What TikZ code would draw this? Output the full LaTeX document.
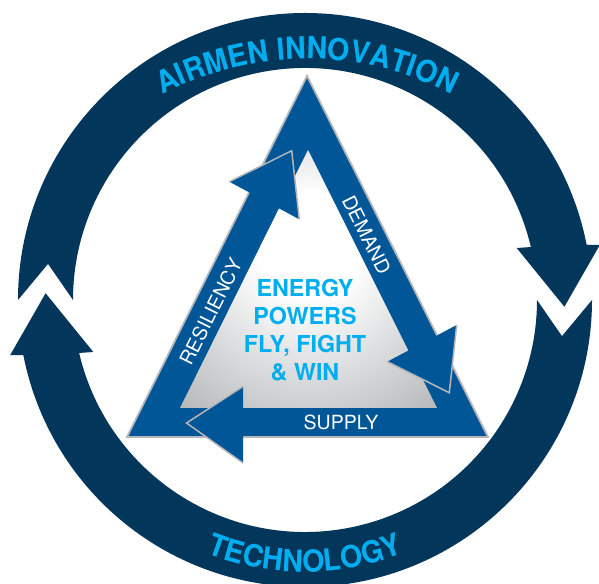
\documentclass[tikz,border=0pt]{standalone}
\usepackage{fontspec}
\setmainfont{TeX Gyre Heros}
\newfontfamily\ringfont[FakeStretch=0.94]{TeX Gyre Heros}
\usetikzlibrary{decorations.text}
\definecolor{navy}{RGB}{2,54,91}
\definecolor{tblue}{RGB}{0,86,150}
\definecolor{cyanc}{RGB}{0,174,239}
\definecolor{outl}{RGB}{180,182,185}
\definecolor{ingray}{RGB}{170,172,175}
% soft light spot in the middle of the inner triangle
\pgfdeclareradialshading{glow}{\pgfpoint{0bp}{8bp}}{color(0bp)=(white); color(10bp)=(white); color(42bp)=(ingray); color(60bp)=(ingray)}
\newcommand\ringtxt{\ringfont\bfseries\fontsize{30.5}{36}\selectfont}

\begin{document}
\begin{tikzpicture}[x=1pt,y=1pt,
  ring/.style={fill=navy},
  band/.style={fill=tblue, draw=outl, line width=1.8pt, line join=miter},
  head/.style={fill=tblue},
  headedge/.style={draw=outl, line width=1.5pt, line join=miter},
  lab/.style={text=white, font=\fontsize{19.5}{22}\selectfont, inner sep=0pt},
  core/.style={text=cyanc, font=\bfseries\fontsize{23.3}{28}\selectfont, inner sep=0pt, anchor=base}]
\useasboundingbox (0,0) rectangle (599,583);

% ---- outer cycle: two curved arrows ----
\begin{scope}[shift={(305,283)}]
  \fill[ring] (180:287) arc[start angle=180, end angle=11.1, radius=287]
    -- (10.6:300) -- (-1.5:259.5) -- (13.8:218) -- (13.2:232)
    arc[start angle=13.2, end angle=180, radius=232] -- (172:259.5) -- cycle;
  \fill[ring] (0:287) arc[start angle=0, end angle=-168.9, radius=287]
    -- (-169.4:300) -- (-181.5:259.5) -- (-166.2:218) -- (-166.8:232)
    arc[start angle=-166.8, end angle=0, radius=232] -- (-8:259.5) -- cycle;
  \path[decorate, decoration={text along path, text align=center, text color=cyanc,
      text={|\ringtxt|TECHNOLOGY}}]
    (220:272) arc[start angle=220, end angle=320, radius=272];
\end{scope}
\begin{scope}[shift={(307,214)}]
  \path[decorate, decoration={text along path, text align=center, text color=cyanc,
      text={|\ringtxt|AIRMEN INNOVATION}}]
    (150:310) arc[start angle=150, end angle=30, radius=310];
\end{scope}

% ---- triangle band ----
\coordinate (oa) at (307,507);
\coordinate (ob) at (127,146);
\coordinate (oc) at (488,146);
\coordinate (ia) at (308,433);
\coordinate (ib) at (180,175);
\coordinate (ic) at (437,175);
\filldraw[band] (oa) -- (ob) -- (oc) -- cycle;
\shade[shading=glow] (ia) -- (ib) -- (ic) -- cycle;

% ---- arrowheads on the band ----
\coordinate (rl) at (229.3,401.3);
\coordinate (rt) at (291.7,432.3);
\coordinate (rr) at (299.3,363.7);
\coordinate (dl) at (387.3,221.3);
\coordinate (dt) at (449.3,190.3);
\coordinate (dr) at (456.7,258);
\coordinate (st) at (186.5,160);
\coordinate (su) at (243,196.5);
\coordinate (sd) at (243,120);
\fill[head] (rl) -- (rt) -- (rr) -- cycle;
\draw[headedge] (rl) -- (rt) -- (rr);
\fill[head] (dr) -- (dt) -- (dl) -- cycle;
\draw[headedge] (dr) -- (dt) -- (dl);
\fill[head] (su) -- (st) -- (sd) -- cycle;
\draw[headedge] (su) -- (st) -- (sd);

% ---- side labels ----
\node[lab, rotate=63.5] (res) at (210.7,271.3) {RESILIENCY};
\node[lab, rotate=-63.4] (dem) at (366.7,348) {DEMAND};
\node[lab, anchor=base] (sup) at (341,153) {SUPPLY};

% ---- centre statement ----
\node[core] (l1) at (305,286.3) {ENERGY};
\node[core] (l2) at (305,258) {POWERS};
\node[core] (l3) at (305,230.3) {FLY, FIGHT};
\node[core] (l4) at (305,202.3) {\& WIN};
\end{tikzpicture}
\end{document}
